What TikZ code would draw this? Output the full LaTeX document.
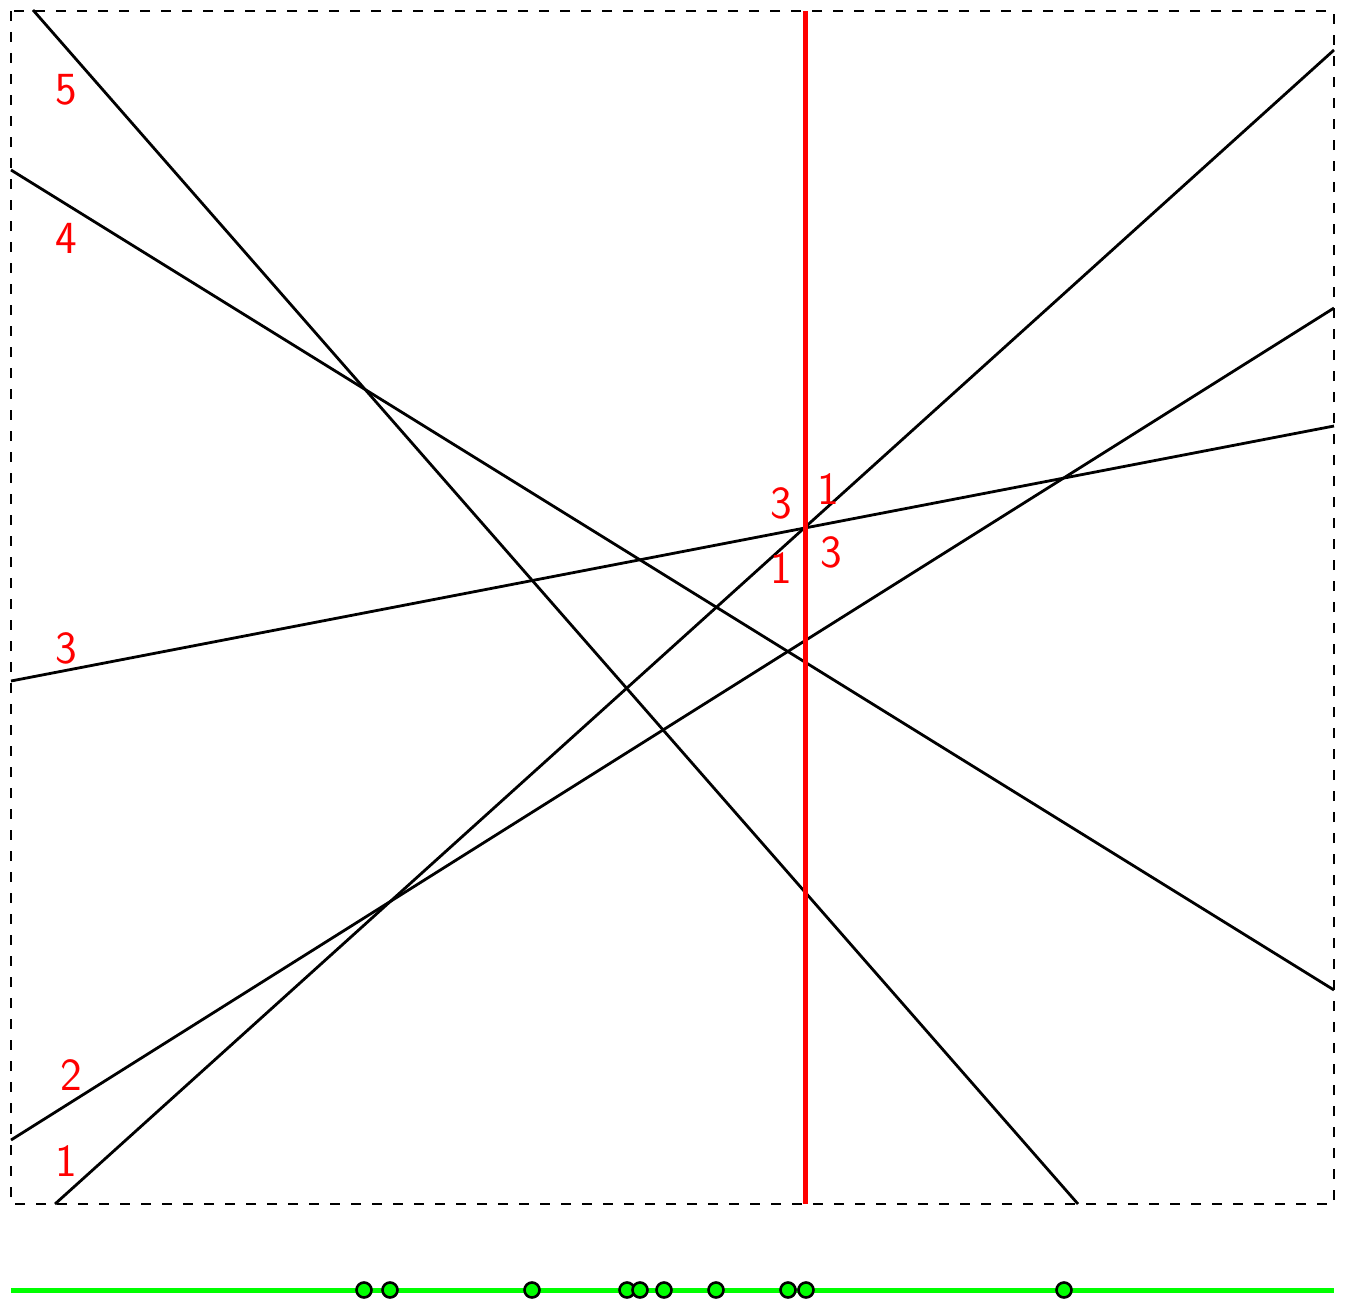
\documentclass[tikz,border=0pt]{standalone}
\begin{document}
\begin{tikzpicture}[x=1pt,y=-1pt,
  frame/.style={draw=black,line width=1.4pt,dash pattern=on 10pt off 11pt},
  arrline/.style={draw=black,line width=2.8pt},
  sweep/.style={draw=red,line width=5pt},
  axis/.style={draw=green,line width=5pt},
  event/.style={circle,draw=black,fill=green,line width=2.6pt,minimum size=15pt,inner sep=0pt},
  lbl/.style={text=red,font=\sffamily\fontsize{46}{50}\selectfont,inner sep=0pt}]
\useasboundingbox (0,0) rectangle (1348,1298);
\draw[frame] (11,11) rectangle (1334,1204);
% line end points
\coordinate (a1) at (55,1204);  \coordinate (b1) at (1334,50);
\coordinate (a2) at (11,1140);  \coordinate (b2) at (1334,308);
\coordinate (a3) at (11,681);   \coordinate (b3) at (1334,426);
\coordinate (a4) at (11,170);   \coordinate (b4) at (1334,990);
\coordinate (a5) at (33,10);    \coordinate (b5) at (1078,1204);
\draw[arrline] (a1) -- (b1);
\draw[arrline] (a2) -- (b2);
\draw[arrline] (a3) -- (b3);
\draw[arrline] (a4) -- (b4);
\draw[arrline] (a5) -- (b5);
% sweep line
\coordinate (s1) at (805,11); \coordinate (s2) at (805,1204);
\draw[sweep] (s1) -- (s2);
% labels
\node[lbl] (l5) at (66,90) {5};
\node[lbl] (l4) at (66,238) {4};
\node[lbl] (l3) at (66,648) {3};
\node[lbl] (l2) at (71,1075) {2};
\node[lbl] (l1) at (66,1161) {1};
\node[lbl] (c3a) at (781,503) {3};
\node[lbl] (c1a) at (828,489) {1};
\node[lbl] (c1b) at (781,568) {1};
\node[lbl] (c3b) at (831,552) {3};
% event axis
\coordinate (g1) at (11,1290); \coordinate (g2) at (1334,1290);
\draw[axis] (g1) -- (g2);
\foreach \x [count=\i] in {364,390,532,627,640,664,716,788,806,1064}
  \node[event] (e\i) at (\x,1290) {};
\end{tikzpicture}
\end{document}
